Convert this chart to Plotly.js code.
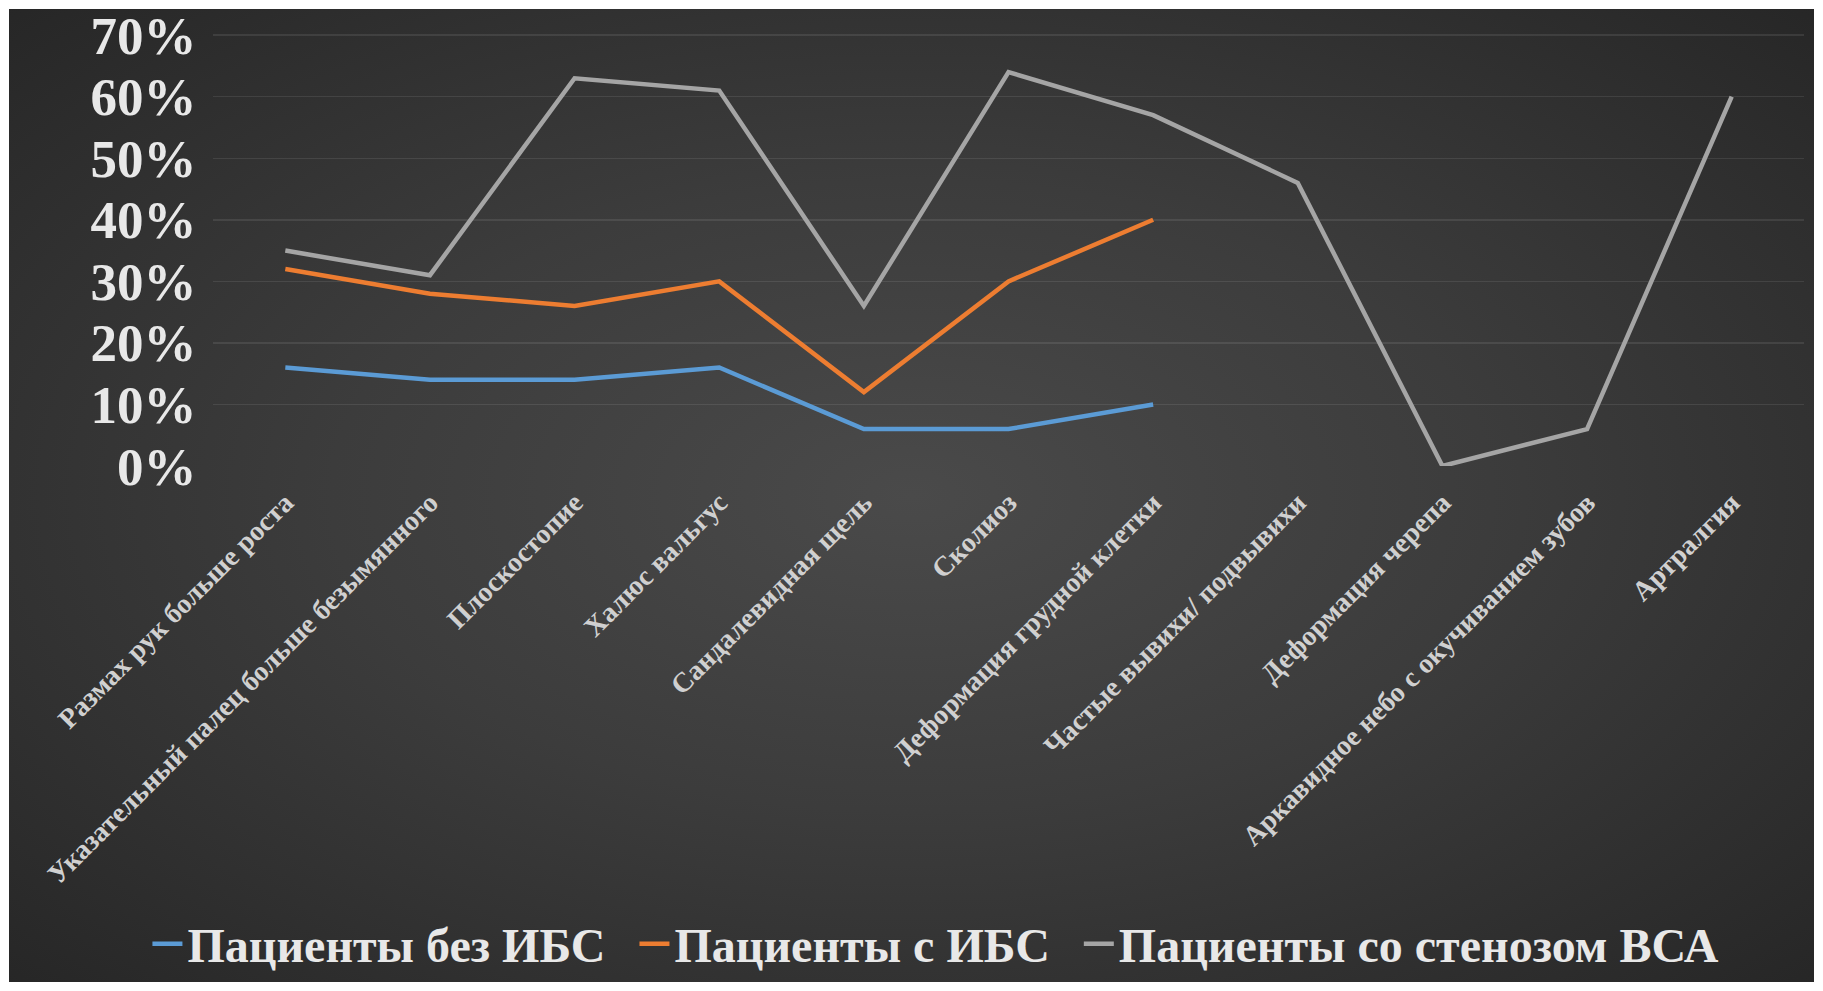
<!DOCTYPE html>
<html>
<head>
<meta charset="utf-8">
<script src="https://cdn.plot.ly/plotly-3.0.1.min.js"></script>
<style>
  html, body { margin: 0; padding: 0; background: #ffffff; width: 1823px; height: 991px; overflow: hidden; }
  #chart {
    position: absolute; left: 0; top: 0; width: 1823px; height: 991px;
    background: radial-gradient(ellipse at 50% 50%, #4a4a4a 0%, #3c3c3c 45%, #262626 100%);
    box-shadow: inset 0 0 0 9px #ffffff;
  }
</style>
</head>
<body>
<div id="chart"></div>
<script>
const categories = [
  "Размах рук больше роста",
  "Указательный палец больше безымянного",
  "Плоскостопие",
  "Халюс вальгус",
  "Сандалевидная щель",
  "Сколиоз",
  "Деформация грудной клетки",
  "Частые вывихи/ подвывихи",
  "Деформация черепа",
  "Аркавидное небо с окучиванием зубов",
  "Артралгия"
];
const seriesNames = ["Пациенты без ИБС", "Пациенты с ИБС", "Пациенты со стенозом ВСА"];
const noIHD = [16, 14, 14, 16, 6, 6, 10];
const withIHD = [32, 28, 26, 30, 12, 30, 40];
const stenosis = [35, 31, 63, 61, 26, 64, 57, 46, 0, 6, 60];
const yTicks = [0, 10, 20, 30, 40, 50, 60, 70];
const yTickLabels = ["0%", "10%", "20%", "30%", "40%", "50%", "60%", "70%"];

const font = "'Liberation Serif', 'Times New Roman', serif";
const colors = ["#5B9BD5", "#ED7D31", "#A5A5A5"];
const pad = ['\u00a0\u00a0', '\u00a0\u00a0', ''];
const data = [noIHD, withIHD, stenosis].map((vals, i) => ({
  type: 'scatter', mode: 'lines',
  x: categories.slice(0, vals.length), y: vals,
  name: seriesNames[i] + pad[i],
  line: { color: colors[i], width: 4.5 }
}));

const layout = {
  width: 1823, height: 991,
  paper_bgcolor: 'rgba(0,0,0,0)', plot_bgcolor: 'rgba(0,0,0,0)',
  margin: { l: 213, r: 19, t: 33, b: 525 },
  font: { family: font, color: '#e6e6e6' },
  xaxis: {
    type: 'category', range: [-0.5, 10.5],
    showgrid: false, zeroline: false, showline: false,
    ticks: 'outside', ticklen: 8, tickcolor: 'rgba(0,0,0,0)',
    tickangle: -45,
    tickfont: { family: font, size: 28, color: '#d0d0d0', weight: 'bold' }
  },
  yaxis: {
    range: [0, 70.35], tickmode: 'array', tickvals: yTicks, ticktext: yTickLabels,
    showgrid: true, gridcolor: 'rgba(255,255,255,0.09)', gridwidth: 1.5,
    zeroline: false, showline: false,
    ticks: 'outside', ticklen: 5, tickcolor: 'rgba(0,0,0,0)',
    ticklabeloverflow: 'allow',
    tickfont: { family: font, size: 53, color: '#e8e8e8', weight: 'bold' }
  },
  showlegend: true,
  legend: {
    orientation: 'h', xref: 'container', yref: 'container',
    x: 0.5134, xanchor: 'center', y: 0.0474, yanchor: 'middle',
    font: { family: font, size: 48, color: '#e8e8e8', weight: 'bold' },
    itemwidth: 30, bgcolor: 'rgba(0,0,0,0)'
  }
};

Plotly.newPlot('chart', data, layout, { displayModeBar: false, staticPlot: true });
</script>
</body>
</html>
